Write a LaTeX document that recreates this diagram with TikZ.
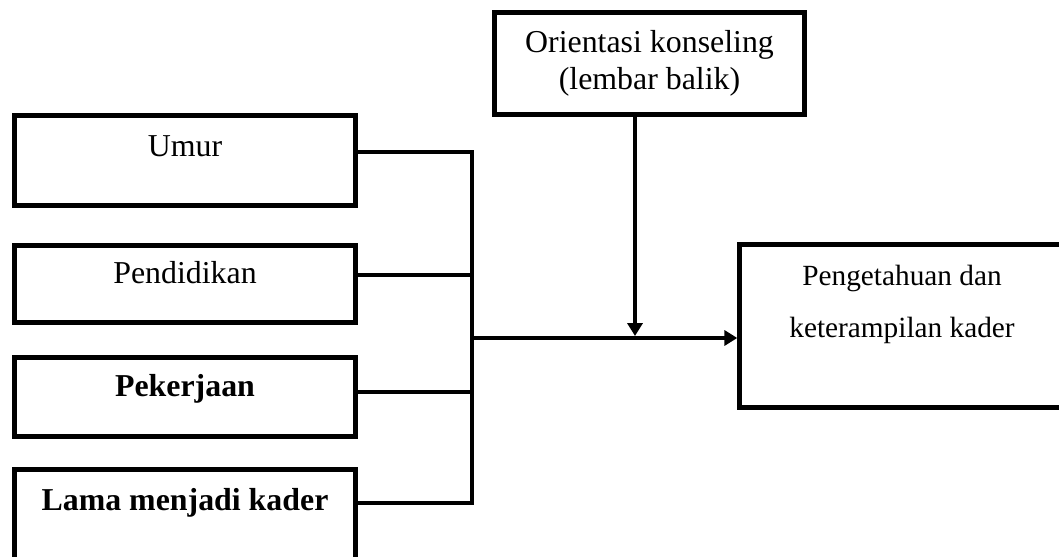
\documentclass[tikz,border=0pt]{standalone}
\usepackage{fontspec}
\setmainfont{Liberation Serif}
\usepackage{tikz}
\usetikzlibrary{arrows.meta}

\begin{document}
\begin{tikzpicture}[x=0.015cm, y=-0.015cm,
	box/.style={draw, line width=2.1pt, rectangle, inner sep=0pt, minimum width=5.115cm,
		font=\fontsize{13.6}{15}\selectfont, text height=10pt, text depth=10pt},
	link/.style={line width=1.7pt},
	arrow/.style={line width=1.7pt, -{Triangle[length=5.5pt, width=6.4pt]}}]
	\clip (0,0) rectangle (1059,557);

	\node[box, minimum height=1.35cm, text depth=13pt] (umur) at (185,160.5) {Umur};
	\node[box, minimum height=1.155cm] (pend) at (185,284) {Pendidikan};
	\node[box, minimum height=1.185cm] (kerja) at (185,397) {\textbf{Pekerjaan}};
	\node[box, minimum height=1.365cm, text depth=13.5pt] (lama) at (185,515) {\textbf{Lama menjadi kader}};

	\node[draw, line width=2.1pt, inner sep=0pt, minimum width=4.65cm, minimum height=1.53cm,
		align=center, font=\fontsize{13.6}{15.5}\selectfont] (orient) at (649.5,63.5) {Orientasi konseling\\(lembar balik)};
	\node[draw, line width=2.1pt, inner sep=0pt, minimum width=4.8675cm, minimum height=2.445cm,
		align=center, font=\fontsize{12.5}{22}\selectfont, text height=20pt, text depth=10.6pt] (hasil) at (902,326) {Pengetahuan dan\\keterampilan kader};

	\coordinate (bus) at (472,338);
	\coordinate (drop) at (635,336);

	\draw[link] ([yshift=3.6pt]umur.east) -| (bus);
	\draw[link] ([yshift=3.8pt]pend.east) -| (bus);
	\draw[link] ([yshift=2.1pt]kerja.east) -| (bus);
	\draw[link] ([yshift=5.1pt]lama.east) -| (bus);

	\draw[arrow] (bus) -- (bus -| hasil.west);
	\draw[arrow] (orient.south -| drop) -- (drop);

\end{tikzpicture}
\end{document}
